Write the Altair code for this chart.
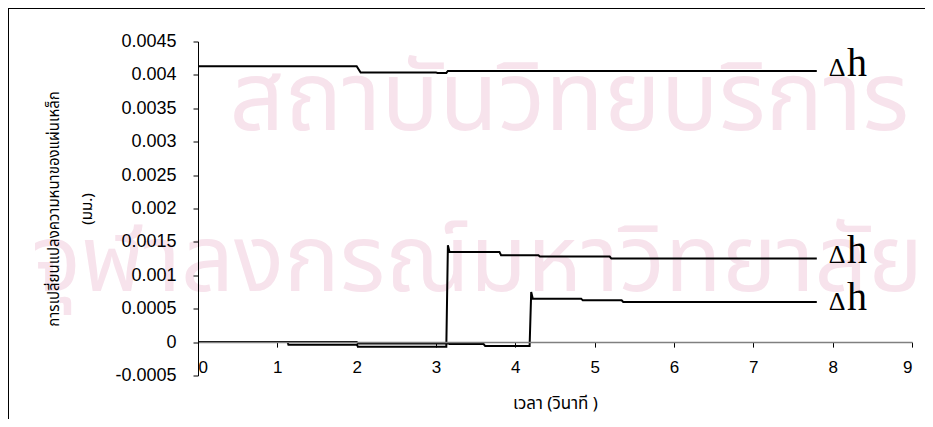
import altair as alt
import pandas as pd

# ---- data ----
# top series (about 0.0041)
a_t = [0, 2.0, 2.05, 3.0, 3.02, 3.13, 3.15, 7.8]
a_v = [0.00413, 0.00413, 0.004035, 0.004035, 0.00403, 0.00403, 0.00406, 0.00406]
# middle series (jump at ~3.15 s)
b_t = [0, 1.13, 1.14, 2.0, 2.02, 3.13, 3.15, 3.17, 3.8, 3.82, 4.29, 4.31, 5.19, 5.21, 7.8]
b_v = [0, 0, -0.00004, -0.00004, -0.00007, -0.00007, 0.00145, 0.00135, 0.00135,
       0.0013, 0.0013, 0.00128, 0.00128, 0.00125, 0.00125]
# bottom series (jump at ~4.2 s)
c_t = [0, 2.0, 2.02, 3.15, 3.17, 3.6, 3.62, 4.18, 4.2, 4.22, 4.83, 4.85, 5.34, 5.36, 7.8]
c_v = [0, 0, -0.00002, -0.00002, -0.00003, -0.00003, -0.00006, -0.00006, 0.00075,
       0.00065, 0.00065, 0.000625, 0.000625, 0.0006, 0.0006]

# series end labels
lab_delta_x = [7.95, 7.95, 7.95]
lab_h_x = [8.18, 8.18, 8.18]
lab_y = [0.00399, 0.00118, 0.000475]

# y / x ticks
y_ticks = [-0.0005, 0, 0.0005, 0.001, 0.0015, 0.002, 0.0025, 0.003, 0.0035, 0.004, 0.0045]
x_ticks = [0, 1, 2, 3, 4, 5, 6, 7, 8, 9]

# background watermark
wm_text = ["สถาบันวิทยบริการ", "จุฬาลงกรณ์มหาวิทยาลัย"]
wm_x = [4.68, 3.52]
wm_y = [0.00317, 0.00077]
wm_size = [96, 93]

y_title = ["การเปลี่ยนแปลงความหนาของแผ่นเหล็ก", "(มม.)"]
x_title = "เวลา  (วินาที )"

# ---- tables ----
rows = []
for name, ts, vs in (("a", a_t, a_v), ("b", b_t, b_v), ("c", c_t, c_v)):
    for i, (t, v) in enumerate(zip(ts, vs)):
        rows.append({"series": name, "t": t, "v": v, "i": i})
df = pd.DataFrame(rows)
lab = pd.DataFrame({"dx": lab_delta_x, "hx": lab_h_x, "y": lab_y})
wm = pd.DataFrame({"text": wm_text, "x": wm_x, "y": wm_y, "s": wm_size})

W, H = 714, 334
xs = alt.Scale(domain=[0, 9], nice=False, zero=False)
ys = alt.Scale(domain=[-0.0005, 0.0045], nice=False, zero=False)
THAI = "Noto Sans Thai, Loma, Garuda, Tlwg Typo, Liberation Sans, sans-serif"

X_AX = alt.Axis(values=x_ticks, format="d", offset=-H * 0.1, grid=False, zindex=1,
                domainColor="#808080", domainWidth=1.5, tickColor="black",
                tickSize=5, labelFontSize=17, labelFont="Liberation Sans",
                labelColor="black", labelPadding=12, labelOverlap=False,
                titleFont=THAI, titleFontSize=17, titleFontWeight="normal",
                titleColor="black", titlePadding=20)
Y_AX = alt.Axis(values=y_ticks, grid=False, zindex=1, domainColor="black", tickColor="black",
                tickSize=5, labelFontSize=18, labelFont="Liberation Sans",
                labelColor="black", labelPadding=17, labelOverlap=False,
                labelExpr="replace(format(datum.value, '.4~f'), '\u2212', '-')",
                titleFont=THAI, titleFontSize=15, titleFontWeight="normal",
                titleColor="black", titleLineHeight=33, titlePadding=20)


def X(field):
    return alt.X(field, scale=xs, title=x_title, axis=X_AX)


def Y(field):
    return alt.Y(field, scale=ys, title=y_title, axis=Y_AX)


watermark = alt.Chart(wm).mark_text(
    font=THAI, color="#f7e3ec", align="center", baseline="alphabetic"
).encode(x=X("x:Q"), y=Y("y:Q"), text="text:N",
         size=alt.Size("s:Q", scale=None, legend=None))

lines = alt.Chart(df).mark_line(color="black", strokeWidth=2, clip=False).encode(
    x=X("t:Q"), y=Y("v:Q"), detail="series:N", order="i:Q",
)

delta = alt.Chart(lab).mark_text(
    text="Δ", font="Liberation Serif", fontSize=26, align="left", baseline="alphabetic", color="black"
).encode(x=X("dx:Q"), y=Y("y:Q"))
hh = alt.Chart(lab).mark_text(
    text="h", font="Liberation Serif", fontSize=40, align="left", baseline="alphabetic", color="black"
).encode(x=X("hx:Q"), y=Y("y:Q"))

frame_top = alt.Chart(lab).mark_rule(color="black", strokeWidth=1).encode(
    x=alt.value(-190), x2=alt.value(W + 40), y=alt.value(-33)
)
frame_left = alt.Chart(lab).mark_rule(color="black", strokeWidth=1).encode(
    x=alt.value(-189.5), y=alt.value(-33), y2=alt.value(H + 60)
)

chart = alt.layer(watermark, lines, delta, hh, frame_top, frame_left).properties(
    width=W, height=H,
    autosize=alt.AutoSizeParams(type="none"),
    padding={"left": 190, "top": 33.5, "right": 13, "bottom": 43.5},
    background="white",
).configure_view(stroke=None)

chart.save("out.html", embed_options={"renderer": "svg", "actions": False})
